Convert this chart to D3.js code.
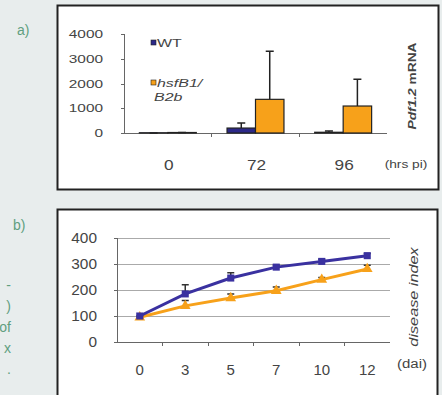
<!DOCTYPE html>
<html>
  <head>
    <meta charset='utf-8'>
    <title></title>
    <script src='https://d3js.org/d3.v7.min.js'></script>
    <style>
      body { margin: 0; background: #e8eded; }
      svg { display: block; }
      text { font-family: Arial, 'Liberation Sans', sans-serif; fill: #444; }
      .side { fill: #5f9f80; font-size: 14px; }
      .axis path, .axis line { stroke: #666; shape-rendering: crispEdges; }
      .axis text { fill: #444; }
    </style>
  </head>
  <body>
  <script type='text/javascript'>

    // panel a) Pdf1.2 mRNA
    var hours = ['0', '72', '96'];
    var series = ['WT', 'hsfB1/B2b'];
    var wtMrna = [10, 200, 30];
    var wtMrnaErr = [0, 400, 80];
    var hsfMrna = [20, 1360, 1090];
    var hsfMrnaErr = [20, 3300, 2170];
    var mrnaTicks = [0, 1000, 2000, 3000, 4000];

    // panel b) disease index
    var days = ['0', '3', '5', '7', '10', '12'];
    var wtIndex = [100, 185, 246, 288, 310, 332];
    var wtIndexErr = [100, 220, 266, 295, 318, 340];
    var hsfIndex = [95, 139, 169, 197, 240, 281];
    var hsfIndexErr = [95, 160, 185, 212, 248, 295];
    var indexTicks = [0, 100, 200, 300, 400];

    var blue = '#3a31a0', orange = '#f7a11a';

    var svg = d3.select('body').append('svg')
      .attr('width', 442).attr('height', 395);

    // the scanned figure is stretched sideways, so texts get a horizontal scale
    function wideText(g, x, y, sx, rot) {
      return g.append('text')
        .attr('transform', 'translate(' + x + ',' + y + ')' + (rot ? ' rotate(' + rot + ')' : '') + ' scale(' + sx + ',1)');
    }
    function stretchAxis(sel, sx) {
      sel.selectAll('.tick text').each(function() {
        var t = d3.select(this);
        var x = +t.attr('x') || 0;
        t.attr('x', x / sx).attr('transform', 'scale(' + sx + ',1)');
      });
    }

    // side texts
    svg.append('text').attr('class', 'side').attr('x', 17).attr('y', 35).text('a)');
    svg.append('text').attr('class', 'side').attr('x', 13).attr('y', 230).text('b)');
    var clipped = ['-', ')', 'of', 'x', '.'];
    svg.selectAll('.clip').data(clipped).enter().append('text')
      .attr('class', 'side').attr('text-anchor', 'end')
      .attr('x', 11).attr('y', function(d, i) { return 290 + i * 21; })
      .text(function(d) { return d; });

    // frames
    svg.append('rect').attr('x', 57.5).attr('y', 5.5).attr('width', 381).attr('height', 184)
      .attr('fill', '#fff').attr('stroke', '#222').attr('stroke-width', 2);
    svg.append('rect').attr('x', 57.5).attr('y', 209.5).attr('width', 380).attr('height', 200)
      .attr('fill', '#fff').attr('stroke', '#222').attr('stroke-width', 2);

    // ---------- panel a ----------
    var ga = svg.append('g');
    var xa = d3.scaleBand().domain(hours).range([124, 387]);
    var xs = d3.scaleBand().domain(series).range([0, xa.bandwidth()]).paddingInner(0).paddingOuter(0.54);
    var ya = d3.scaleLinear().domain([0, 4000]).range([133, 34]);

    ga.append('g').attr('class', 'axis').attr('transform', 'translate(124,0)')
      .call(d3.axisLeft(ya).tickValues(mrnaTicks).tickSize(3).tickPadding(18).tickFormat(d3.format('d')))
      .call(function(g) {
        g.select('.domain').attr('d', 'M0,34V133');
        g.selectAll('text').style('font-size', '11px');
        stretchAxis(g, 1.4);
      });

    var gx = ga.append('g').attr('class', 'axis').attr('transform', 'translate(0,133)');
    gx.append('line').attr('x1', 124).attr('x2', 387);
    gx.selectAll('.tk').data(hours.slice(1)).enter().append('line')
      .attr('x1', function(d) { return xa(d); }).attr('x2', function(d) { return xa(d); })
      .attr('y1', 0).attr('y2', 4);
    gx.selectAll('.lbl').data(hours).enter().append('text')
      .attr('transform', function(d) { return 'translate(' + (xa(d) + xa.bandwidth() / 2 + 1) + ',37) scale(1.15,1)'; })
      .attr('text-anchor', 'middle').style('font-size', '15px')
      .text(function(d) { return d; });
    wideText(ga, 406, 168, 1.25).attr('text-anchor', 'middle')
      .style('font-size', '11px').text('(hrs pi)');

    function drawBars(vals, errs, key, fill) {
      var bw = xs.bandwidth();
      var g = ga.append('g');
      g.selectAll('path').data(hours).enter().append('path')
        .attr('d', function(d, i) {
          var cx = xa(d) + xs(key) + bw / 2;
          return 'M' + cx + ',' + ya(vals[i]) + 'V' + ya(errs[i]) + 'M' + (cx - 4) + ',' + ya(errs[i]) + 'H' + (cx + 4);
        })
        .attr('stroke', '#222').attr('stroke-width', 1.5).attr('fill', 'none');
      g.selectAll('rect').data(hours).enter().append('rect')
        .attr('x', function(d) { return xa(d) + xs(key); })
        .attr('y', function(d, i) { return ya(vals[i]); })
        .attr('width', bw)
        .attr('height', function(d, i) { return ya(0) - ya(vals[i]); })
        .attr('fill', fill).attr('stroke', '#222').attr('stroke-width', 1.2);
    }
    drawBars(wtMrna, wtMrnaErr, 'WT', '#2c2888');
    drawBars(hsfMrna, hsfMrnaErr, 'hsfB1/B2b', orange);

    // legend
    var lg = ga.append('g');
    lg.append('rect').attr('x', 151).attr('y', 40).attr('width', 5).attr('height', 5)
      .attr('fill', '#2c2888').attr('stroke', '#222').attr('stroke-width', 0.6);
    wideText(lg, 157, 47, 1.45).style('font-size', '11px').text(series[0]);
    lg.append('rect').attr('x', 151).attr('y', 80).attr('width', 5).attr('height', 5)
      .attr('fill', orange).attr('stroke', '#222').attr('stroke-width', 0.6);
    wideText(lg, 157, 87, 1.45).style('font-size', '11px').style('font-style', 'italic').text('hsfB1/');
    wideText(lg, 154, 101, 1.45).style('font-size', '11px').style('font-style', 'italic').text('B2b');

    var yl = wideText(ga, 416, 86, 1.25, -90)
      .attr('text-anchor', 'middle').style('font-size', '11px').style('font-weight', 'bold');
    yl.append('tspan').style('font-style', 'italic').text('Pdf1.2');
    yl.append('tspan').text(' mRNA');

    // ---------- panel b ----------
    var gb = svg.append('g');
    var xb = d3.scalePoint().domain(days).range([117, 390]).padding(0.5);
    var yb = d3.scaleLinear().domain([0, 400]).range([342, 238]);

    gb.selectAll('.grid').data(indexTicks.slice(1)).enter().append('line')
      .attr('x1', 117).attr('x2', 390)
      .attr('y1', function(d) { return Math.round(yb(d)) + 0.5; })
      .attr('y2', function(d) { return Math.round(yb(d)) + 0.5; })
      .attr('stroke', '#aaa').attr('stroke-width', 1);

    gb.append('g').attr('class', 'axis').attr('transform', 'translate(117,0)')
      .call(d3.axisLeft(yb).tickValues(indexTicks).tickSize(3).tickPadding(17))
      .call(function(g) {
        g.select('.domain').attr('d', 'M0,238V342');
        g.selectAll('text').style('font-size', '14px');
        stretchAxis(g, 1.1);
      });

    var gbx = gb.append('g').attr('class', 'axis').attr('transform', 'translate(0,342)');
    gbx.append('line').attr('x1', 114).attr('x2', 390);
    gbx.selectAll('.tk').data(days.slice(1)).enter().append('line')
      .attr('x1', function(d) { return xb(d) - xb.step() / 2; })
      .attr('x2', function(d) { return xb(d) - xb.step() / 2; })
      .attr('y1', 0).attr('y2', 4);
    gbx.selectAll('.lbl').data(days).enter().append('text')
      .attr('x', function(d) { return xb(d); }).attr('y', 33)
      .attr('text-anchor', 'middle').style('font-size', '15px')
      .text(function(d) { return d; });

    function drawLine(vals, errs, color, marker) {
      var pts = days.map(function(d, i) { return [xb(d), yb(vals[i])]; });
      gb.append('g').selectAll('path').data(days).enter().append('path')
        .attr('d', function(d, i) {
          var cx = xb(d);
          return 'M' + cx + ',' + yb(vals[i]) + 'V' + yb(errs[i]) + 'M' + (cx - 3.5) + ',' + yb(errs[i]) + 'H' + (cx + 3.5);
        })
        .attr('stroke', '#333').attr('stroke-width', 1.5).attr('fill', 'none');
      gb.append('path').datum(pts)
        .attr('d', d3.line())
        .attr('fill', 'none').attr('stroke', color).attr('stroke-width', 3);
      gb.append('g').selectAll('path').data(pts).enter().append('path')
        .attr('transform', function(d) { return 'translate(' + d + ')'; })
        .attr('d', d3.symbol().type(marker).size(50))
        .attr('fill', color);
    }
    drawLine(hsfIndex, hsfIndexErr, orange, d3.symbolTriangle);
    drawLine(wtIndex, wtIndexErr, blue, d3.symbolSquare);

    wideText(gb, 418, 297, 1.25, -90)
      .attr('text-anchor', 'middle').style('font-size', '13px').style('font-style', 'italic')
      .text('disease index');
    wideText(gb, 412, 368, 1.25).attr('text-anchor', 'middle')
      .style('font-size', '12px').text('(dai)');

  </script>
  </body>
</html>
